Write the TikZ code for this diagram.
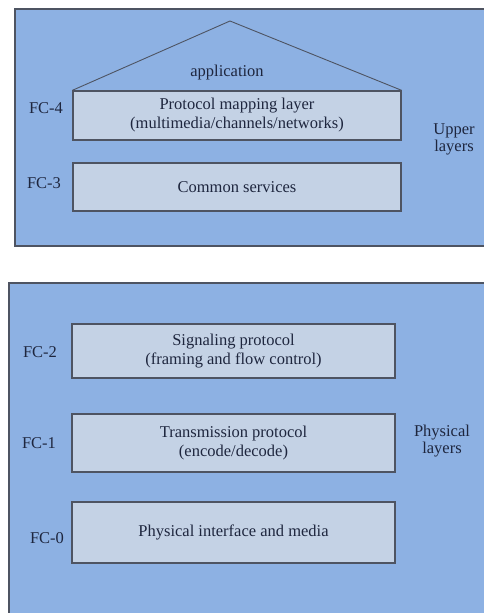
\documentclass[tikz,border=0pt]{standalone}
\usepackage{fontspec}
\setmainfont{Liberation Serif}
\usetikzlibrary{positioning}
\definecolor{panelblue}{RGB}{141,177,227}
\definecolor{boxgray}{RGB}{196,210,229}
\definecolor{edgegray}{RGB}{78,84,98}
\definecolor{inkblue}{RGB}{30,38,62}
\tikzset {
panel/.style={draw=edgegray,line width=1.2pt,fill=panelblue},
layer/.style={shape=rectangle,draw=edgegray,line width=1.3pt,fill=boxgray,
  text=inkblue,align=center,minimum width=328pt,inner sep=0pt,
  font=\fontsize{16.5}{19}\selectfont},
fclabel/.style={text=inkblue,font=\fontsize{16.5}{19}\selectfont},
sidelabel/.style={text=inkblue,align=center,font=\fontsize{16.5}{17}\selectfont}
}

\begin{document}
\begin{tikzpicture}
[x=1pt,y=-1pt]
\useasboundingbox[fill=white] (0,0) rectangle (483,613);
% the two panels
\draw[panel] (15,9) rectangle (490,246);
\draw[panel] (9,283) rectangle (490,620);
% upper layers
\node[layer,minimum height=49pt] (fc4) at (237,115.5) {Protocol mapping layer\\(multimedia/channels/networks)};
\node[layer,minimum height=48pt] (fc3) at (237,187) {Common services};
\coordinate (apex) at (230,21);
\draw[edgegray,line width=0.9pt] (fc4.north west) -- (apex) -- (fc4.north east);
\node[fclabel] (app) at (227,73) {application};
\node[fclabel] (l4) at (46,108) {FC-4};
\node[fclabel] (l3) at (44,183) {FC-3};
\node[sidelabel] (upper) at (454,139) {Upper\\layers};
% physical layers
\node[layer,minimum width=323pt,minimum height=54pt] (fc2) at (233.5,351) {Signaling protocol\\(framing and flow control)};
\node[layer,minimum width=323pt,minimum height=58pt] (fc1) at (233.5,443) {Transmission protocol\\(encode/decode)};
\node[layer,minimum width=323pt,minimum height=61pt] (fc0) at (233.5,532.5) {Physical interface and media};
\node[fclabel] (l2) at (40,352) {FC-2};
\node[fclabel] (l1) at (39,443) {FC-1};
\node[fclabel] (l0) at (47,538) {FC-0};
\node[sidelabel] (phys) at (442,441) {Physical\\layers};
\end{tikzpicture}
\end{document}
